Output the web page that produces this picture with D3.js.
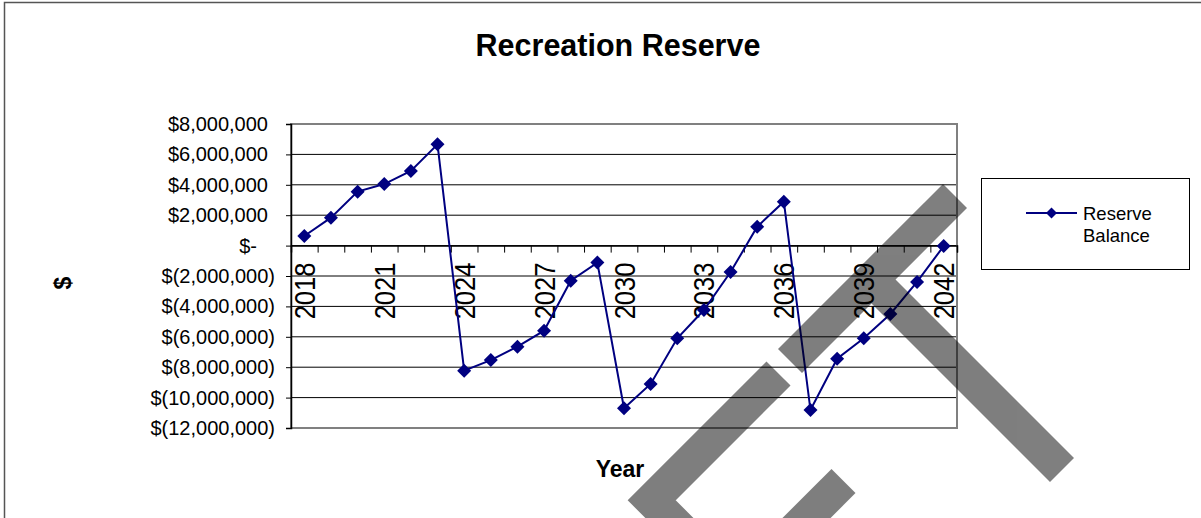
<!DOCTYPE html>
<html>
<head>
<meta charset="utf-8">
<script src="https://cdn.jsdelivr.net/npm/d3@7"></script>
<style>
    body { margin: 0; background: #fff; }
    svg { display: block; font-family: "Liberation Sans", Arial, sans-serif; }
</style>
</head>
<body>
<div class="plot"></div>
<script>
"use strict";

// years on the category axis
var years = [2018, 2019, 2020, 2021, 2022, 2023, 2024, 2025, 2026, 2027, 2028, 2029, 2030,
    2031, 2032, 2033, 2034, 2035, 2036, 2037, 2038, 2039, 2040, 2041, 2042];

// reserve balance
var balance = [630000, 1840000, 3550000, 4050000, 4910000, 6660000, -8230000, -7530000, -6650000,
    -5600000, -2310000, -1120000, -10700000, -9100000, -6100000, -4240000, -1740000, 1240000,
    2890000, -10820000, -7440000, -6100000, -4500000, -2390000, -30000];

var yTicks = [8000000, 6000000, 4000000, 2000000, 0, -2000000, -4000000, -6000000, -8000000,
    -10000000, -12000000];

// only every third year gets a label
var yearLabels = [2018, 2021, 2024, 2027, 2030, 2033, 2036, 2039, 2042];

var seriesName = ["Reserve", "Balance"];

var W = 1201, H = 518;
var margin = { top: 124, left: 291, right: 244, bottom: 90 };
var width = W - margin.left - margin.right,
    height = H - margin.top - margin.bottom;
var NAVY = "#000080";

var svg = d3.select(".plot")
    .append("svg")
    .attr("width", W)
    .attr("height", H);

svg.append("rect").attr("width", W).attr("height", H).attr("fill", "#fff");

// outer chart frame (runs off the right and bottom)
svg.append("rect")
    .attr("x", 4.5).attr("y", 2.5)
    .attr("width", W + 20).attr("height", H + 20)
    .attr("fill", "none")
    .attr("stroke", "#555")
    .attr("stroke-width", 1.5);

svg.append("text")
    .attr("x", 618).attr("y", 56)
    .attr("text-anchor", "middle")
    .attr("font-size", 30.5).attr("font-weight", "bold")
    .text("Recreation Reserve");

var g = svg.append("g")
    .attr("transform", "translate(" + margin.left + "," + margin.top + ")");

var x = d3.scaleBand().domain(years).range([0, width]).paddingInner(0).paddingOuter(0);
var xEdge = d3.scaleLinear().domain([0, years.length]).range([0, width]);
var y = d3.scaleLinear().domain([-12000000, 8000000]).range([height, 0]);

// gridlines
g.selectAll(".grid")
    .data(yTicks)
    .enter()
    .append("line")
    .attr("x1", 0).attr("x2", width)
    .attr("y1", d => y(d)).attr("y2", d => y(d))
    .attr("stroke", "#000").attr("stroke-width", 1);

// plot area border
g.append("rect")
    .attr("x", 0).attr("y", 0)
    .attr("width", width).attr("height", height)
    .attr("fill", "none")
    .attr("stroke", "#808080").attr("stroke-width", 2);

// y axis, accounting style labels
const fmtNum = d3.format(",");
const fmtMoney = v => v === 0 ? "$-" : v < 0 ? "$(" + fmtNum(-v) + ")" : "$" + fmtNum(v);

var yAxis = g.append("g")
    .call(d3.axisLeft(y).tickValues(yTicks).tickSize(5).tickPadding(11).tickFormat(fmtMoney));
yAxis.select(".domain").attr("stroke", "#000").attr("stroke-width", 1.5);
yAxis.selectAll(".tick line").attr("stroke", "#000");
yAxis.selectAll(".tick text")
    .attr("font-size", 20)
    .attr("font-family", "Liberation Sans, Arial, sans-serif")
    .attr("fill", "#000")
    .attr("dx", d => d < 0 ? 0 : d === 0 ? -18 : -7);

// x axis sits at zero, tick marks between categories
var xAxis = g.append("g")
    .attr("transform", "translate(0," + y(0) + ")")
    .call(d3.axisBottom(xEdge).tickValues(d3.range(years.length + 1)).tickSize(7).tickFormat(""));
xAxis.select(".domain").attr("stroke", "#000").attr("stroke-width", 1.5);
xAxis.selectAll(".tick line").attr("stroke", "#000");

g.selectAll(".yearLabel")
    .data(yearLabels)
    .enter()
    .append("text")
    .attr("transform", d => "translate(" + (x(d) + x.bandwidth() / 2) + "," + (y(0) + 17) + ") rotate(-90) scale(1,1.15)")
    .attr("text-anchor", "end")
    .attr("dy", "0.36em")
    .attr("font-size", 25.5)
    .text(d => d);

// the series
var line = d3.line()
    .x((d, i) => x(years[i]) + x.bandwidth() / 2)
    .y(d => y(d));

g.append("path")
    .datum(balance)
    .attr("d", line)
    .attr("fill", "none")
    .attr("stroke", NAVY)
    .attr("stroke-width", 2);

const diamond = s => "M0," + (-s) + "L" + s + ",0L0," + s + "L" + (-s) + ",0Z";

g.selectAll(".pt")
    .data(balance)
    .enter()
    .append("path")
    .attr("d", diamond(7))
    .attr("transform", (d, i) => "translate(" + (x(years[i]) + x.bandwidth() / 2) + "," + y(d) + ")")
    .attr("fill", NAVY);

// axis titles
svg.append("text")
    .attr("x", 620).attr("y", 477)
    .attr("text-anchor", "middle")
    .attr("font-size", 23).attr("font-weight", "bold")
    .text("Year");

svg.append("text")
    .attr("transform", "translate(63,283) rotate(-90)")
    .attr("text-anchor", "middle")
    .attr("dy", "0.36em")
    .attr("font-size", 23).attr("font-weight", "bold")
    .text("$");

// legend
var legend = svg.append("g").attr("transform", "translate(981,178)");
legend.append("rect")
    .attr("x", 0.5).attr("y", 0.5)
    .attr("width", 208).attr("height", 91)
    .attr("fill", "#fff").attr("stroke", "#000").attr("stroke-width", 1);
legend.append("line")
    .attr("x1", 45).attr("x2", 96).attr("y1", 35).attr("y2", 35)
    .attr("stroke", NAVY).attr("stroke-width", 2);
legend.append("path")
    .attr("d", diamond(5.5))
    .attr("transform", "translate(70.5,35)")
    .attr("fill", NAVY);
legend.selectAll(".lt")
    .data(seriesName)
    .enter()
    .append("text")
    .attr("x", 102)
    .attr("y", (d, i) => 42 + i * 21.5)
    .attr("font-size", 18.5)
    .text(d => d);

// grey watermark bands over everything
var mark = svg.append("g").attr("opacity", 0.5)
    .attr("fill", "none").attr("stroke", "#000")
    .attr("stroke-width", 34).attr("stroke-linejoin", "miter").attr("stroke-linecap", "butt");
mark.append("path").attr("d", "M790,361L955,196");
mark.append("path").attr("d", "M871.5,279.5L1062,470");
mark.append("path").attr("d", "M778.5,373.5L651.7,500.3L720,568.6");
mark.append("path").attr("d", "M843.5,481L770,554.5");
</script>
</body>
</html>
